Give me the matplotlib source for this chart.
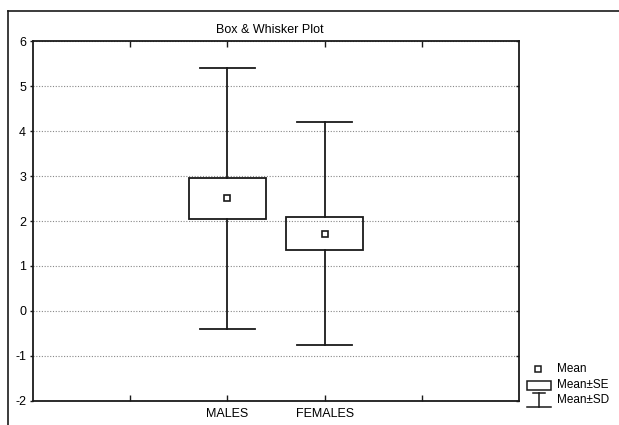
import matplotlib.pyplot as plt
from matplotlib.patches import Rectangle
from matplotlib.lines import Line2D

plt.rcParams['font.family'] = ['Liberation Sans', 'DejaVu Sans']
plt.rcParams['axes.unicode_minus'] = False

groups = ['MALES', 'FEMALES']
means = [2.51, 1.72]
se_low = [2.05, 1.35]
se_high = [2.95, 2.10]
sd_low = [-0.40, -0.76]
sd_high = [5.40, 4.20]

ink = '#1a1a1a'
fig = plt.figure(figsize=(6.19, 4.25), dpi=100)
ax = fig.add_axes([33 / 619, 0.0565, (519 - 33) / 619, 0.847])

pos = [2, 3]
bw = 0.4
cw = 0.28
for x, m, lo, hi, wl, wh in zip(pos, means, se_low, se_high, sd_low, sd_high):
    ax.add_patch(Rectangle((x - bw, lo), 2 * bw, hi - lo, fill=False,
                           edgecolor=ink, lw=1.3, zorder=3))
    ax.plot([x, x], [hi, wh], color=ink, lw=1.3, zorder=3)
    ax.plot([x, x], [wl, lo], color=ink, lw=1.3, zorder=3)
    ax.plot([x - cw, x + cw], [wh, wh], color=ink, lw=1.3, zorder=3)
    ax.plot([x - cw, x + cw], [wl, wl], color=ink, lw=1.3, zorder=3)
    ax.plot(x, m, 's', ms=4.5, mfc='white', mec=ink, mew=1.2, zorder=4)

ax.set_xlim(0, 5)
ax.set_ylim(-2, 6)
ax.set_yticks(range(-2, 7))
ax.set_xticks([1, 2, 3, 4])
ax.set_xticklabels(['', 'MALES', 'FEMALES', ''])
ax.grid(axis='y', color='#888888', ls=(0, (1, 1.5)), lw=0.8)
ax.tick_params(axis='x', direction='in', top=True, length=4,
               labelsize=9, color=ink, width=1, pad=5)
ax.tick_params(axis='y', direction='out', length=2, labelsize=9,
               color=ink, width=1, pad=3)
ax.tick_params(axis='y', which='major', right=True)
for t in ax.yaxis.get_ticklines()[1::2]:
    t.set_marker(0)
for s in ax.spines.values():
    s.set_color(ink)
    s.set_linewidth(1.3)

fig.text(270 / 619, 1 - 30 / 425, 'Box & Whisker Plot', ha='center',
         va='center', fontsize=9)

# outer frame
fig.add_artist(Line2D([8 / 619, 8 / 619], [0, 1 - 11 / 425], color=ink,
                      lw=1.2, transform=fig.transFigure))
fig.add_artist(Line2D([8 / 619, 1], [1 - 11 / 425, 1 - 11 / 425], color=ink,
                      lw=1.2, transform=fig.transFigure))

# legend
def fx(px):
    return px / 619

def fy(py):
    return 1 - py / 425

tf = fig.transFigure
fig.add_artist(Line2D([fx(538)], [fy(369)], marker='s', ms=4, mfc='white',
                      mec=ink, mew=1.1, transform=tf))
fig.add_artist(Rectangle((fx(527), fy(390)), fx(24), 9 / 425, fill=False,
                         edgecolor=ink, lw=1.1, transform=tf))
fig.add_artist(Line2D([fx(539), fx(539)], [fy(393), fy(407)], color=ink,
                      lw=1.1, transform=tf))
fig.add_artist(Line2D([fx(533), fx(545)], [fy(393), fy(393)], color=ink,
                      lw=1.1, transform=tf))
fig.add_artist(Line2D([fx(527), fx(551)], [fy(407), fy(407)], color=ink,
                      lw=1.1, transform=tf))
for py, txt in [(369, 'Mean'), (385, 'Mean±SE'), (400, 'Mean±SD')]:
    fig.text(fx(557), fy(py), txt, ha='left', va='center', fontsize=8.5)

fig.savefig('out.png', dpi=100)
